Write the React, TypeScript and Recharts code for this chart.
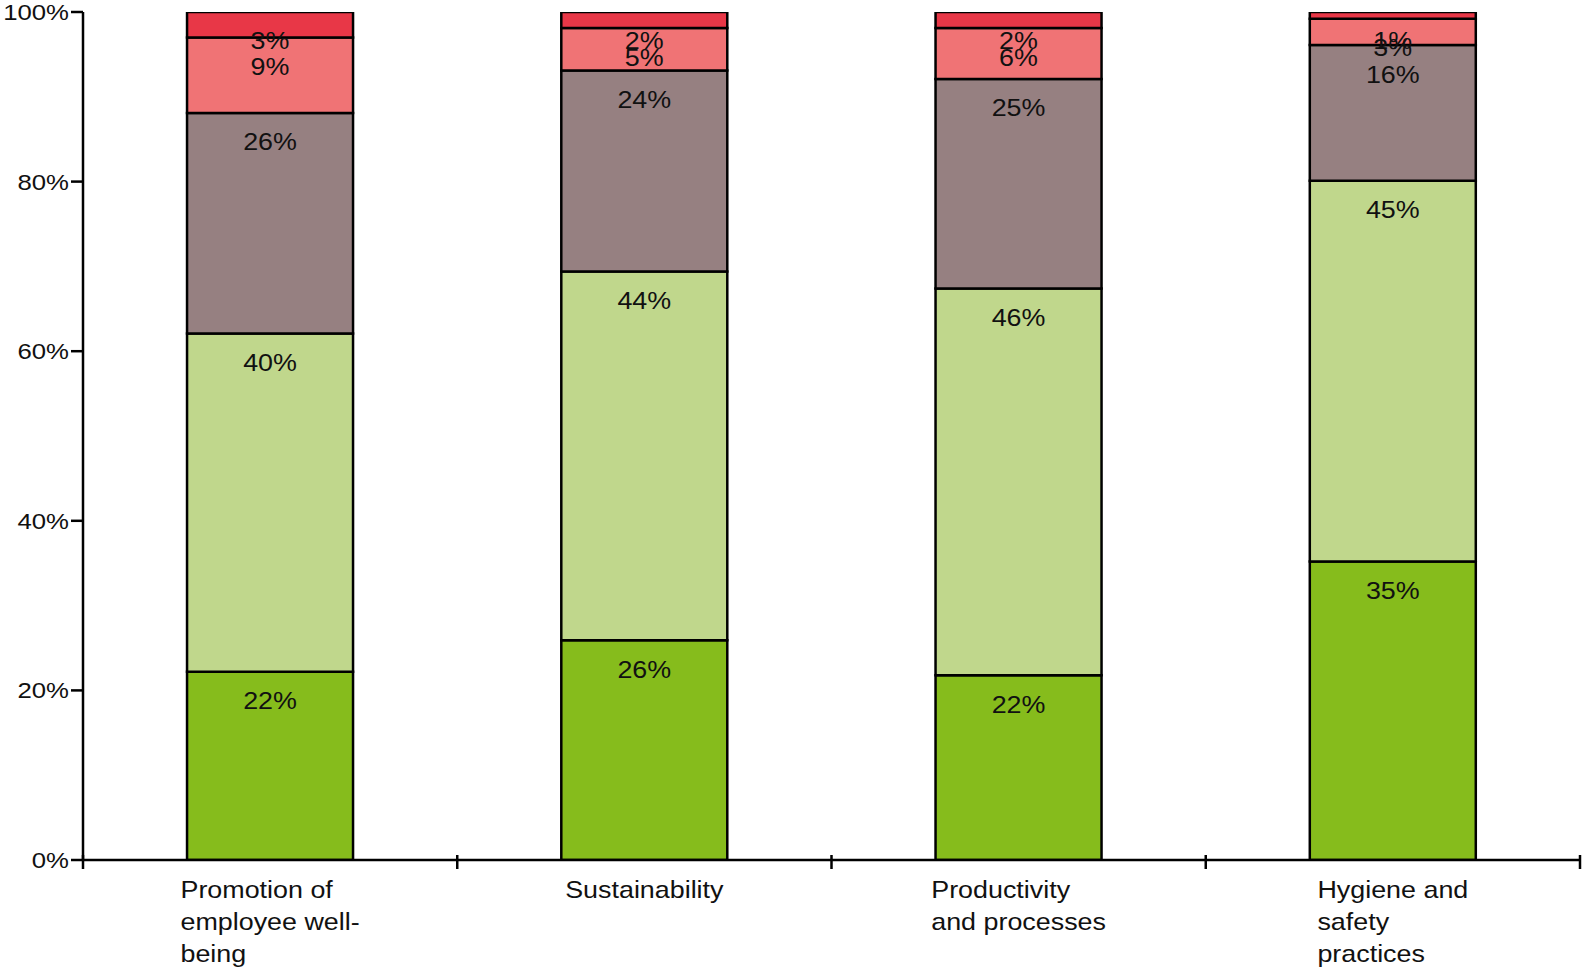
import React from "react";
import { BarChart, Bar, XAxis, YAxis } from "recharts";

const categories = [
  "Promotion of employee well-being",
  "Sustainability",
  "Productivity and processes",
  "Hygiene and safety practices",
];
const categoryLines = [
  ["Promotion of", "employee well-", "being"],
  ["Sustainability"],
  ["Productivity", "and processes"],
  ["Hygiene and", "safety", "practices"],
];
const s1 = [22.2, 25.9, 21.8, 35.2];
const s2 = [39.9, 43.5, 45.6, 44.9];
const s3 = [26.0, 23.7, 24.7, 16.0];
const s4 = [8.9, 5.0, 6.0, 3.1];
const s5 = [3.0, 1.9, 1.9, 0.8];
const yTicks = [0, 20, 40, 60, 80, 100];

const seriesKeys = ["s1", "s2", "s3", "s4", "s5"];
const seriesColors = ["#86BC1C", "#C0D78C", "#968081", "#F07375", "#E83747"];
const seriesArrays = [s1, s2, s3, s4, s5];

const data = categories.map((c, i) => {
  const row: any = { name: c, idx: i };
  seriesKeys.forEach((k, j) => (row[k] = seriesArrays[j][i]));
  return row;
});

const FONT = "'Liberation Sans', Arial, sans-serif";
const STRETCH = 1.12;

let ctx: CanvasRenderingContext2D | null = null;
function measure(text: string, size: number) {
  if (typeof document === "undefined") return text.length * size * 0.5;
  if (!ctx) ctx = document.createElement("canvas").getContext("2d");
  if (!ctx) return text.length * size * 0.5;
  ctx.font = `${size}px 'Liberation Sans', Arial`;
  return ctx.measureText(text).width;
}

const XTick = (props: any) => {
  const { x, y, payload, index } = props;
  const lines = categoryLines[index] || [String(payload.value)];
  const size = 24;
  const w = Math.max(...lines.map((l) => measure(l, size))) * STRETCH;
  const left = x - w / 2;
  const half = payload.offset || 0;
  const ax = y - 12;
  return (
    <g>
      <line x1={x - half} x2={x - half} y1={ax - 1} y2={ax + 13} stroke="#000" strokeWidth={2.5} />
      {index === categories.length - 1 && (
        <line x1={x + half} x2={x + half} y1={ax - 1} y2={ax + 13} stroke="#000" strokeWidth={2.5} />
      )}
      <text
        transform={`translate(${left},${ax + 42}) scale(${STRETCH},1)`}
        x={0}
        y={0}
        fontSize={size}
        fontFamily={FONT}
        fill="#111"
        textAnchor="start"
      >
        {lines.map((l, i) => (
          <tspan key={i} x={0} dy={i === 0 ? 0 : 32}>
            {l}
          </tspan>
        ))}
      </text>
    </g>
  );
};

const YTick = (props: any) => {
  const { x, y, payload } = props;
  return (
    <text
      transform={`translate(${x},${y}) scale(${STRETCH},1)`}
      x={0}
      y={0}
      textAnchor="end"
      dominantBaseline="central"
      fontSize={23}
      fontFamily={FONT}
      fill="#111"
    >
      {`${payload.value}%`}
    </text>
  );
};

const makeLabel = (j: number) => (props: any) => {
  const { x, y, width, index } = props;
  const v = seriesArrays[j][index];
  const cx = Number(x) + Number(width) / 2;
  const cy = Number(y) + 29;
  return (
    <text
      transform={`translate(${cx},${cy}) scale(${STRETCH},1)`}
      x={0}
      y={0}
      textAnchor="middle"
      dominantBaseline="central"
      fontSize={24}
      fontFamily={FONT}
      fill="#111"
    >
      {Math.round(v)}%
    </text>
  );
};

export default function App() {
  return (
    <div style={{ position: "absolute", left: 0, top: 0, width: 1585, height: 972, background: "#fff" }}>
      <BarChart
        width={1585}
        height={972}
        data={data}
        margin={{ top: 12, right: 5, bottom: 0, left: 0 }}
        barCategoryGap="27.8%"
      >
        <XAxis
          dataKey="name"
          height={112}
          axisLine={{ stroke: "#000", strokeWidth: 2.5 }}
          tickLine={false}
          tick={<XTick />}
          interval={0}
        />
        <YAxis
          width={83}
          domain={[0, 100]}
          ticks={yTicks}
          allowDataOverflow
          axisLine={{ stroke: "#000", strokeWidth: 2.5 }}
          tickLine={{ stroke: "#000", strokeWidth: 2.5 }}
          tickSize={12}
          tickMargin={2}
          tick={<YTick />}
        />
        {seriesKeys.map((k, j) => (
          <Bar
            key={k}
            dataKey={k}
            stackId="a"
            fill={seriesColors[j]}
            stroke="#000"
            strokeWidth={2.5}
            isAnimationActive={false}
            label={makeLabel(j)}
          />
        ))}
      </BarChart>
    </div>
  );
}
